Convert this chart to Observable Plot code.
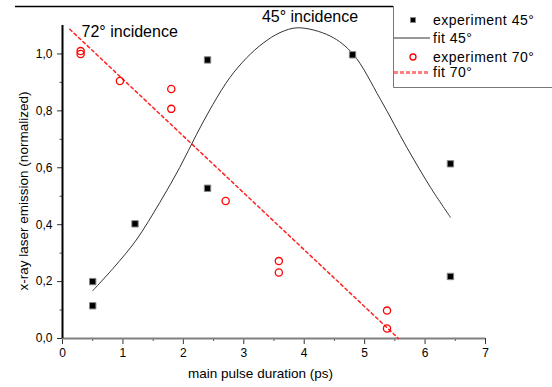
<!DOCTYPE html>
<html><head><meta charset="utf-8">
<script src="https://cdn.jsdelivr.net/npm/d3@7"></script>
<script src="https://cdn.jsdelivr.net/npm/@observablehq/plot@0.6"></script>
<style>body{margin:0;background:#fff}#chart{width:552px;height:387px}</style>
</head><body><div id="chart"></div>
<script>
// ---- data ----
const exp45X = [0.5, 0.5, 1.2, 2.4, 2.4, 4.8, 6.42, 6.42];
const exp45Y = [0.2, 0.115, 0.403, 0.979, 0.528, 0.997, 0.614, 0.218];
const exp70X = [0.3, 0.3, 0.95, 1.8, 1.8, 2.7, 3.58, 3.58, 5.37, 5.37];
const exp70Y = [1.0, 1.01, 0.905, 0.877, 0.807, 0.483, 0.272, 0.232, 0.098, 0.035];
const fit45X = [0.5, 0.86, 1.22, 1.61, 1.94, 2.22, 2.49, 2.77, 3.05, 3.32, 3.6, 3.9, 4.43, 4.81, 5.26, 5.7, 6.09, 6.42];
const fit45Y = [0.168, 0.252, 0.346, 0.478, 0.601, 0.718, 0.823, 0.917, 0.987, 1.038, 1.075, 1.092, 1.063, 0.999, 0.841, 0.671, 0.531, 0.426];
const fit70X = [0.12, 5.56];
const fit70Y = [1.087, 0.0];
const xMajor = [0, 1, 2, 3, 4, 5, 6, 7];
const xMinor = [0.5, 1.5, 2.5, 3.5, 4.5, 5.5, 6.5];
const yMajor = [0, 0.2, 0.4, 0.6, 0.8, 1.0];
const yMinor = [0.1, 0.3, 0.5, 0.7, 0.9];
const seriesNames = ["experiment 45°", "fit 45°", "experiment 70°", "fit 70°"];
const notes = ["72° incidence", "45° incidence"];
const xTitle = "main pulse duration (ps)";
const yTitle = "x-ray laser emission (normalized)";

const exp45 = exp45X.map((x, i) => ({x, y: exp45Y[i]}));
const exp70 = exp70X.map((x, i) => ({x, y: exp70Y[i]}));
const fit45 = fit45X.map((x, i) => ({x, y: fit45Y[i]}));
const fit70 = fit70X.map((x, i) => ({x, y: fit70Y[i]}));

const font = "'Liberation Sans', Arial, sans-serif";
const fmt = d => d.toFixed(1).replace(".", ",");

const chart = Plot.plot({
  width: 552, height: 387,
  marginLeft: 62, marginRight: 67, marginTop: 25, marginBottom: 49,
  x: {domain: [0, 7]},
  y: {domain: [0, 1.1]},
  style: {fontFamily: font, fontSize: "12px", background: "#fff", color: "#000", overflow: "visible"},
  marks: [
    Plot.axisX(xMinor, {tickSize: 3, tickFormat: () => "", stroke: "#555", label: null}),
    Plot.axisX(xMajor, {tickSize: 6, tickPadding: 4, tickFormat: d => String(d), stroke: "#333", fontSize: 12, label: null}),
    Plot.axisY(yMinor, {tickSize: 2.5, tickFormat: () => "", stroke: "#555", label: null}),
    Plot.axisY(yMajor, {tickSize: 5, tickPadding: 5, tickFormat: fmt, stroke: "#333", fontSize: 12, label: null}),
    Plot.ruleY([0], {stroke: "#808080", strokeWidth: 2}),
    Plot.ruleX([0], {stroke: "#000", strokeWidth: 2}),
    Plot.line(fit70, {x: "x", y: "y", stroke: "#f22", strokeWidth: 1.5, strokeDasharray: "3,3"}),
    Plot.line(fit45, {x: "x", y: "y", stroke: "#333", strokeWidth: 1, curve: "catmull-rom"}),
    Plot.dot(exp45, {x: "x", y: "y", symbol: "square", fill: "#000", stroke: "#888", strokeWidth: 1, r: 3.6}),
    Plot.dot(exp70, {x: "x", y: "y", symbol: "circle", fill: "none", stroke: "#f00", strokeWidth: 1.3, r: 3.6}),
    Plot.text([notes[0]], {x: 0.315, y: 1.079, text: d => d, textAnchor: "start", fontSize: 16, fill: "#000"}),
    Plot.text([notes[1]], {x: 3.3, y: 1.13, text: d => d, textAnchor: "start", fontSize: 16, fill: "#000"}),
    Plot.text([xTitle], {frameAnchor: "bottom", dy: 39, dx: -13.5, text: d => d, fontSize: 13.5, fill: "#000"})
  ]
});

const svg = d3.select(chart);
// y-axis title
svg.append("text").attr("transform", "translate(23,191) rotate(-90)")
  .attr("text-anchor", "middle").attr("dy", "0.35em")
  .attr("font-family", font).attr("font-size", 13.5).attr("fill", "#000").text(yTitle);
// frame line and legend box
const g = svg.append("g").attr("font-family", font).attr("font-size", 14)
  .attr("letter-spacing", "0.5px").attr("text-anchor", "start");
g.append("line").attr("x1", 15).attr("x2", 393).attr("y1", 6.5).attr("y2", 6.5)
  .attr("stroke", "#000").attr("stroke-width", 1.3);
g.append("path").attr("d", "M393.5,6 V87.5 H552").attr("fill", "none").attr("stroke", "#777");
const rows = [20, 38, 57, 72.5];
rows.forEach((ry, i) => {
  if (i === 0) g.append("rect").attr("x", 410.5).attr("y", ry - 2.5).attr("width", 5).attr("height", 5).attr("fill", "#000").attr("stroke", "#888").attr("stroke-width", 0.8);
  if (i === 1) g.append("line").attr("x1", 394).attr("x2", 430).attr("y1", ry).attr("y2", ry).attr("stroke", "#333");
  if (i === 2) g.append("circle").attr("cx", 413).attr("cy", ry).attr("r", 3).attr("fill", "none").attr("stroke", "#f00").attr("stroke-width", 1.3);
  if (i === 3) g.append("line").attr("x1", 394).attr("x2", 430).attr("y1", ry).attr("y2", ry).attr("stroke", "#ff8080").attr("stroke-width", 3).attr("stroke-dasharray", "4,2");
  g.append("text").attr("x", 433).attr("y", ry).attr("dy", "0.35em").attr("fill", "#000").text(seriesNames[i]);
});

document.getElementById("chart").appendChild(chart);
</script>
</body></html>
